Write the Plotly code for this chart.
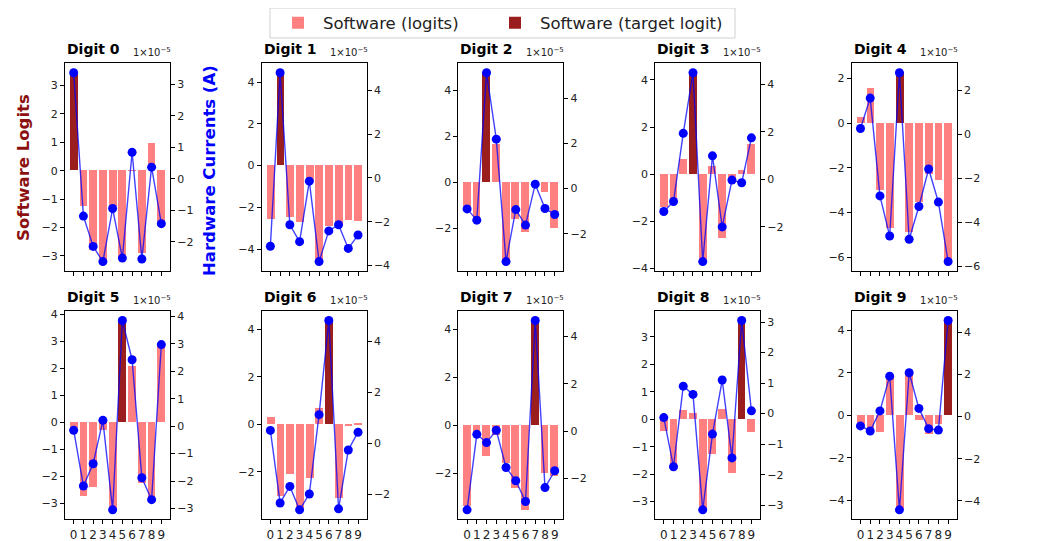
import plotly.graph_objects as go

# ---------------- data ----------------
digits = list(range(10))
x_labels = [str(d) for d in digits]

# software logits per digit-sample (bars, left axis)
sw_logits_d0 = [3.45, -1.27, -2.80, -3.20, -1.25, -3.04, -0.02, -2.90, 0.95, -1.85]
sw_logits_d1 = [-2.58, 4.45, -2.50, -2.70, -0.75, -4.60, -2.90, -2.85, -2.60, -2.65]
sw_logits_d2 = [-1.15, -1.65, 4.75, 1.65, -3.43, -1.60, -2.17, -0.05, -0.43, -2.00]
sw_logits_d3 = [-1.40, -1.15, 0.65, 4.30, -3.70, 0.32, -2.70, -0.40, 0.15, 1.25]
sw_logits_d4 = [0.25, 1.55, -3.00, -4.70, 2.26, -4.90, -3.55, -2.30, -2.55, -6.20]
sw_logits_d5 = [-0.20, -2.72, -2.40, -0.30, -3.25, 3.77, 2.08, -2.24, -2.82, 2.93]
sw_logits_d6 = [0.30, -3.00, -2.08, -3.60, -2.24, 0.68, 4.37, -3.12, -0.05, 0.07]
sw_logits_d7 = [-3.40, -0.35, -1.30, -0.42, -1.60, -2.62, -3.54, 4.38, -2.00, -2.12]
sw_logits_d8 = [-0.43, -1.70, 0.34, 0.22, -3.30, -1.25, 0.37, -1.97, 3.60, -0.45]
sw_logits_d9 = [-0.50, -0.60, -0.80, 1.88, -4.45, 2.08, -0.24, -0.86, -0.40, 4.46]

# hardware currents per digit-sample, in units of 1e-5 A (line, right axis)
hw_curr_d0 = [3.36, -1.18, -2.14, -2.62, -0.94, -2.51, 0.84, -2.54, 0.37, -1.42]
hw_curr_d1 = [-3.12, 4.80, -2.14, -2.91, -0.15, -3.82, -2.42, -2.14, -3.22, -2.61]
hw_curr_d2 = [-0.90, -1.40, 5.15, 2.20, -3.24, -0.93, -1.62, 0.20, -0.88, -1.15]
hw_curr_d3 = [-1.35, -0.93, 1.94, 4.49, -3.46, 0.99, -2.00, -0.03, -0.14, 1.75]
hw_curr_d4 = [0.27, 1.65, -2.79, -4.61, 2.80, -4.76, -3.27, -1.57, -3.07, -5.77]
hw_curr_d5 = [-0.15, -2.18, -1.37, 0.21, -3.05, 3.85, 2.42, -1.88, -2.68, 2.97]
hw_curr_d6 = [0.50, -2.35, -1.70, -2.62, -2.00, 1.12, 4.82, -2.58, -0.27, 0.43]
hw_curr_d7 = [-3.33, -0.14, -0.49, 0.03, -1.54, -2.10, -2.98, 4.67, -2.39, -1.68]
hw_curr_d8 = [-0.13, -1.74, 0.90, 0.63, -3.15, -0.67, 1.10, -1.45, 3.05, 0.09]
hw_curr_d9 = [-0.44, -0.68, 0.27, 1.92, -4.42, 2.08, 0.39, -0.57, -0.64, 4.56]

sw_all = [sw_logits_d0, sw_logits_d1, sw_logits_d2, sw_logits_d3, sw_logits_d4,
          sw_logits_d5, sw_logits_d6, sw_logits_d7, sw_logits_d8, sw_logits_d9]
hw_all = [hw_curr_d0, hw_curr_d1, hw_curr_d2, hw_curr_d3, hw_curr_d4,
          hw_curr_d5, hw_curr_d6, hw_curr_d7, hw_curr_d8, hw_curr_d9]

# ---------------- style ----------------
FONT = "DejaVu Sans"
OFF = 8                      # page body margin in the browser
W_PX, H_PX = 1061 - OFF, 541 - OFF
LIGHT = "#FF8080"
DARK = "rgb(155,30,30)"
left_dtick = [1, 2, 2, 2, 2, 1, 2, 2, 1, 2]
right_dtick = [1, 2, 2, 2, 2, 1, 2, 2, 1, 2]
col_left_px = [65, 261.7, 458.4, 655.1, 851.8]      # screen px
plot_w_px = 105
row_px = [(63.3, 271.0), (311.0, 519.3)]            # screen px


def px_x(sx):
    return (sx - OFF) / W_PX


def px_y(sy):
    return 1 - (sy - OFF) / H_PX


def padded(lo, hi, frac=0.05):
    span = hi - lo
    return [lo - frac * span, hi + frac * span]


fig = go.Figure()
layout = {}
annotations = []

for k in range(10):
    r, c = divmod(k, 5)
    xn = k + 1
    yl = 2 * k + 1
    yr = 2 * k + 2
    xid = "x" if xn == 1 else f"x{xn}"
    ylid = "y" if yl == 1 else f"y{yl}"
    yrid = f"y{yr}"
    xkey = "xaxis" if xn == 1 else f"xaxis{xn}"
    ylkey = "yaxis" if yl == 1 else f"yaxis{yl}"
    yrkey = f"yaxis{yr}"

    x0 = px_x(col_left_px[c])
    x1 = px_x(col_left_px[c] + plot_w_px)
    top_px, bot_px = row_px[r]
    y0 = px_y(bot_px)
    y1 = px_y(top_px)

    logits = sw_all[k]
    curr = hw_all[k]
    others = [d for d in digits if d != k]

    fig.add_trace(go.Bar(
        x=others, y=[logits[d] for d in others], width=0.8,
        marker=dict(color=LIGHT, line=dict(width=0)),
        name="Software (logits)", legendgroup="sw", showlegend=(k == 0),
        legend="legend", xaxis=xid, yaxis=ylid))
    fig.add_trace(go.Bar(
        x=[k], y=[logits[k]], width=0.8,
        marker=dict(color=DARK, line=dict(width=0)),
        name="Software (target logit)", legendgroup="tg", showlegend=(k == 0),
        legend="legend2", xaxis=xid, yaxis=ylid))
    fig.add_trace(go.Scatter(
        x=digits, y=curr, mode="lines+markers",
        line=dict(color="rgba(0,0,255,0.75)", width=1.4),
        marker=dict(color="blue", size=9),
        showlegend=False, xaxis=xid, yaxis=yrid))

    axis_common = dict(showgrid=False, zeroline=False, showline=True,
                       linecolor="black", linewidth=1, ticks="outside",
                       ticklen=4, tickcolor="black", automargin=False,
                       tickfont=dict(family=FONT, size=11, color="#222"))

    layout[xkey] = dict(axis_common, domain=[x0, x1], anchor=ylid,
                        range=[-0.89, 9.89], tickmode="array",
                        tickvals=digits, ticktext=x_labels,
                        showticklabels=(r == 1), mirror=True,
                        tickfont=dict(family=FONT, size=12, color="#222"))
    layout[ylkey] = dict(axis_common, domain=[y0, y1], anchor=xid,
                         range=padded(min(0, min(logits)), max(0, max(logits))),
                         dtick=left_dtick[k], tick0=0, side="left")
    layout[yrkey] = dict(axis_common, overlaying=ylid, anchor=xid, side="right",
                         range=padded(min(curr), max(curr)),
                         dtick=right_dtick[k], tick0=0)

    annotations.append(dict(
        text=f"<b>Digit {k}</b>", x=x0, y=y1 + 4 / H_PX, xref="paper", yref="paper",
        xanchor="left", yanchor="bottom", showarrow=False,
        font=dict(family=FONT, size=14, color="black")))
    annotations.append(dict(
        text="1×10<sup>−5</sup>", x=x1 + 3 / W_PX, y=y1 + 3 / H_PX,
        xref="paper", yref="paper", xanchor="right", yanchor="bottom",
        showarrow=False, font=dict(family=FONT, size=10, color="#222")))

annotations.append(dict(
    text="<b>Software Logits</b>", textangle=-90, x=px_x(23), y=px_y(168),
    xref="paper", yref="paper", xanchor="center", yanchor="middle",
    showarrow=False, font=dict(family=FONT, size=16.5, color="#8B1010")))
annotations.append(dict(
    text="<b>Hardware Currents (A)</b>", textangle=-90, x=px_x(210),
    y=px_y(171), xref="paper", yref="paper", xanchor="center",
    yanchor="middle", showarrow=False,
    font=dict(family=FONT, size=16.5, color="blue")))

# legend frame (one box around the two legend entries)
lx0, lx1, ly0, ly1 = 270, 735, 8, 38
legend_frame = dict(type="rect", xref="paper", yref="paper",
                    x0=px_x(lx0), x1=px_x(lx1), y0=px_y(ly1), y1=px_y(ly0),
                    line=dict(color="#d0d0d0", width=1), fillcolor="white",
                    layer="below")

leg_common = dict(orientation="h", yanchor="middle", y=px_y(23),
                  xanchor="left", borderwidth=0, bgcolor="rgba(0,0,0,0)",
                  font=dict(family=FONT, size=16.5, color="#222"),
                  itemwidth=40)

fig.update_layout(
    width=W_PX, height=H_PX,
    margin=dict(l=0, r=0, t=0, b=0, autoexpand=False),
    paper_bgcolor="white", plot_bgcolor="white",
    barmode="overlay", bargap=0,
    annotations=annotations,
    shapes=[legend_frame],
    font=dict(family=FONT, size=12, color="#222"),
    legend=dict(leg_common, x=px_x(273)),
    legend2=dict(leg_common, x=px_x(490)),
    **layout,
)

fig.write_html("out.html")
